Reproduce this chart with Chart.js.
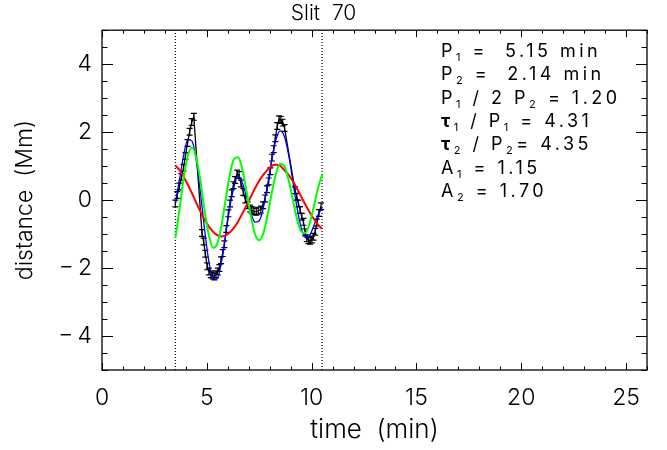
<!DOCTYPE html>
<html>
<head>
<meta charset="utf-8">
<script src="https://cdn.jsdelivr.net/npm/chart.js@4.4.1/dist/chart.umd.min.js"></script>
<style>
  html, body { margin: 0; padding: 0; background: #fff; }
</style>
</head>
<body>
<canvas id="slitChart" width="667" height="450"></canvas>
<script>
// measured displacement (black, with error bars)
const dataTime = [3.50, 3.59, 3.69, 3.79, 3.89, 3.98, 4.08, 4.18, 4.28, 4.38,
  4.77, 4.85, 4.93, 5.02, 5.10, 5.19, 5.28, 5.36, 5.44, 5.52, 5.60, 5.68, 5.76, 5.84, 5.93,
  6.03, 6.11, 6.19, 6.27, 6.35, 6.45, 6.54, 6.63, 6.74, 6.84, 6.95, 7.06, 7.14, 7.25, 7.36, 7.46, 7.58, 7.68,
  7.78, 7.87, 7.95, 8.03, 8.11, 8.19, 8.27, 8.36, 8.45, 8.53, 8.62, 8.71,
  9.21, 9.29, 9.37, 9.45, 9.53, 9.61, 9.69, 9.77, 9.85, 9.93, 10.01, 10.09, 10.17, 10.25, 10.35, 10.45];
const dataDist = [-0.10, 0.15, 0.40, 0.68, 0.95, 1.30, 1.68, 2.01, 2.30, 2.45,
  -0.97, -1.22, -1.58, -1.95, -2.10, -2.18, -2.22, -2.25, -2.18, -2.10, -2.00, -1.77, -1.56, -1.30, -0.85,
  -0.39, -0.10, 0.20, 0.44, 0.59, 0.78, 0.74, 0.49, 0.24, 0.02, -0.15, -0.25, -0.29, -0.33, -0.34, -0.31, -0.28, -0.15,
  0.05, 0.32, 0.55, 0.85, 1.25, 1.50, 1.82, 2.18, 2.38, 2.36, 2.28, 2.12,
  0.29, 0.10, -0.10, -0.29, -0.49, -0.64, -0.95, -1.12, -1.18, -1.20, -1.16, -1.08, -0.93, -0.66, -0.38, -0.18];
const errorSize = 0.1;

// fits
const fitTime = [3.5, 3.7, 3.9, 4.1, 4.3, 4.5, 4.7, 4.9, 5.1, 5.3, 5.5, 5.7, 5.9, 6.1, 6.3, 6.5, 6.7, 6.9,
  7.1, 7.3, 7.5, 7.7, 7.9, 8.1, 8.3, 8.5, 8.7, 8.9, 9.1, 9.3, 9.5, 9.7, 9.9, 10.1, 10.3, 10.5];
const fitTotal = [-0.10, 0.62, 1.34, 1.78, 1.73, 1.16, 0.20, -0.90, -1.82, -2.33, -2.31, -1.82, -1.02, -0.20, 0.40, 0.72, 0.50, 0.09,
  -0.37, -0.65, -0.61, -0.22, 0.45, 1.19, 1.78, 2.04, 1.88, 1.34, 0.58, -0.21, -0.81, -1.10, -1.05, -0.76, -0.45, -0.22];
const fitLong = [1.02, 0.88, 0.68, 0.45, 0.19, -0.08, -0.34, -0.58, -0.78, -0.93, -1.03, -1.07, -1.04, -0.95, -0.81, -0.62, -0.39, -0.15,
  0.10, 0.35, 0.57, 0.75, 0.89, 1.01, 1.04, 1.01, 0.88, 0.74, 0.56, 0.34, 0.11, -0.13, -0.35, -0.55, -0.72, -0.85];
const fitShort = [-1.12, -0.26, 0.66, 1.33, 1.54, 1.24, 0.54, -0.32, -1.04, -1.40, -1.28, -0.75, 0.02, 0.75, 1.21, 1.26, 0.89, 0.24,
  -0.47, -1.00, -1.18, -0.97, -0.44, 0.21, 0.78, 1.07, 1.00, 0.60, 0.02, -0.55, -0.92, -0.97, -0.70, -0.21, 0.34, 0.75];

const fitWindow = [3.5, 10.5];
const xTicks = [0, 5, 10, 15, 20, 25];
const yTicks = [-4, -2, 0, 2, 4];
const notes = [
  'P_1 =  5.15 min',
  'P_2 =  2.14 min',
  'P_1 / 2 P_2 = 1.20',
  'τ_1 / P_1 = 4.31',
  'τ_2 / P_2= 4.35',
  'A_1 = 1.15',
  'A_2 = 1.70'
];

const FONT = "Inter, 'Liberation Sans', sans-serif";
const pts = (xs, ys) => xs.map((x, i) => ({ x: x, y: ys[i] }));

// error bars on the measured points
const errorBars = {
  id: 'errorBars',
  afterDatasetDraw(chart, args) {
    if (chart.data.datasets[args.index].label !== 'data') return;
    const { ctx, scales: { x, y } } = chart;
    ctx.save();
    ctx.strokeStyle = '#000';
    ctx.lineWidth = 1.2;
    dataTime.forEach((t, i) => {
      const px = x.getPixelForValue(t);
      const top = y.getPixelForValue(dataDist[i] + errorSize);
      const bot = y.getPixelForValue(dataDist[i] - errorSize);
      ctx.beginPath();
      ctx.moveTo(px, top); ctx.lineTo(px, bot);
      ctx.moveTo(px - 3, top); ctx.lineTo(px + 3, top);
      ctx.moveTo(px - 3, bot); ctx.lineTo(px + 3, bot);
      ctx.stroke();
    });
    ctx.restore();
  }
};

// IDL style box with inward ticks on all sides
const frameTicks = {
  id: 'frameTicks',
  afterDraw(chart) {
    const { ctx, chartArea: a, scales: { x, y } } = chart;
    ctx.save();
    ctx.strokeStyle = '#000';
    ctx.lineWidth = 1;
    ctx.beginPath();
    for (let v = x.min; v <= x.max; v++) {
      const px = Math.round(x.getPixelForValue(v)) + 0.5;
      const len = xTicks.includes(v) ? 7 : 3.5;
      ctx.moveTo(px, a.bottom); ctx.lineTo(px, a.bottom - len);
      ctx.moveTo(px, a.top); ctx.lineTo(px, a.top + len);
    }
    for (let v = y.min; v <= y.max; v += 0.5) {
      const py = Math.round(y.getPixelForValue(v)) + 0.5;
      const len = yTicks.includes(v) ? 11 : 5.5;
      ctx.moveTo(a.left, py); ctx.lineTo(a.left + len, py);
      ctx.moveTo(a.right, py); ctx.lineTo(a.right - len, py);
    }
    ctx.stroke();
    ctx.lineWidth = 1.3;
    ctx.strokeRect(a.left, a.top, a.right - a.left, a.bottom - a.top);
    ctx.restore();
  }
};

// fit parameters written in the upper right
const notesPlugin = {
  id: 'notes',
  afterDraw(chart) {
    const ctx = chart.ctx;
    ctx.save();
    ctx.fillStyle = '#000';
    ctx.textBaseline = 'alphabetic';
    ctx.letterSpacing = '3.5px';
    notes.forEach((line, i) => {
      let xPos = 441;
      const base = 57 + i * 23.3;
      line.split(/(_\d|τ)/).filter(s => s).forEach(seg => {
        let txt = seg, size = 18, weight = 400, dy = 0;
        if (seg[0] === '_') { txt = seg.slice(1); size = 11; dy = 4; }
        if (seg === 'τ') weight = 700;
        ctx.font = weight + ' ' + size + 'px ' + FONT;
        ctx.fillText(txt, xPos, base + dy);
        xPos += ctx.measureText(txt).width;
      });
    });
    ctx.restore();
  }
};

const tickFont = { family: FONT, size: 23, weight: 300 };

new Chart(document.getElementById('slitChart'), {
  type: 'line',
  data: {
    datasets: [
      { label: 'short', data: pts(fitTime, fitShort), borderColor: '#00ff00', borderWidth: 2, pointRadius: 0, cubicInterpolationMode: 'monotone' },
      { label: 'long', data: pts(fitTime, fitLong), borderColor: '#ff0000', borderWidth: 2, pointRadius: 0, cubicInterpolationMode: 'monotone' },
      { label: 'total', data: pts(fitTime, fitTotal), borderColor: '#0000ff', borderWidth: 1.3, pointRadius: 0, cubicInterpolationMode: 'monotone' },
      { label: 'data', data: pts(dataTime, dataDist), borderColor: '#000', borderWidth: 1.3, pointRadius: 0 },
      { label: 'start', data: [{ x: fitWindow[0], y: -5 }, { x: fitWindow[0], y: 5 }], borderColor: '#000', borderWidth: 1.2, borderDash: [1, 2], pointRadius: 0 },
      { label: 'end', data: [{ x: fitWindow[1], y: -5 }, { x: fitWindow[1], y: 5 }], borderColor: '#000', borderWidth: 1.2, borderDash: [1, 2], pointRadius: 0 }
    ]
  },
  options: {
    responsive: false,
    animation: false,
    devicePixelRatio: 1,
    layout: { padding: { right: 20 } },
    scales: {
      x: {
        type: 'linear',
        min: 0,
        max: 26,
        grid: { display: false, drawTicks: false },
        border: { display: false },
        afterBuildTicks: s => { s.ticks = xTicks.map(v => ({ value: v })); },
        afterFit: s => { s.height = 80; },
        ticks: { color: '#000', font: tickFont, padding: 14, maxRotation: 0 },
        title: { display: true, text: 'time  (min)', color: '#000', font: { family: FONT, size: 26, weight: 300 }, padding: { top: 0, bottom: 4 } }
      },
      y: {
        min: -5,
        max: 5,
        grid: { display: false, drawTicks: false },
        border: { display: false },
        afterBuildTicks: s => { s.ticks = yTicks.map(v => ({ value: v })); },
        afterFit: s => { s.width = 102; },
        ticks: {
          color: '#000', font: tickFont, padding: 10,
          callback: v => v < 0 ? '\u2212' + '\u2009' + Math.abs(v) : String(v)
        },
        title: { display: true, text: 'distance  (Mm)', color: '#000', font: { family: FONT, size: 23, weight: 300 }, padding: { top: 11, bottom: 0 } }
      }
    },
    plugins: {
      legend: { display: false },
      tooltip: { enabled: false },
      title: { display: true, text: 'Slit  70', color: '#000', font: { family: FONT, size: 21, weight: 300 }, padding: { top: 1, bottom: 4 } }
    }
  },
  plugins: [errorBars, frameTicks, notesPlugin]
});
</script>
</body>
</html>
